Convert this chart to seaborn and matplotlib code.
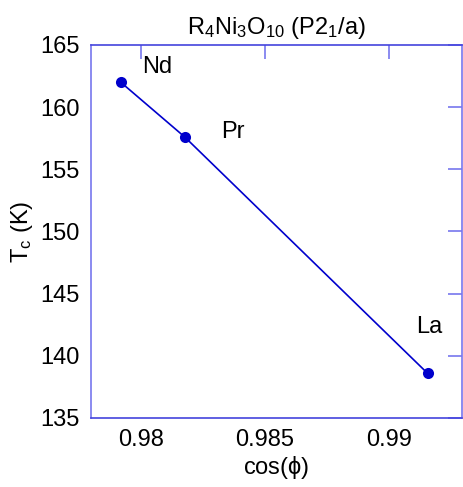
import matplotlib
matplotlib.use("Agg")
import matplotlib.pyplot as plt
import pandas as pd
import seaborn as sns

# data
compounds = ["Nd", "Pr", "La"]
cos_phi = [0.97920, 0.98177, 0.99153]
tc_values = [162.0, 157.6, 138.6]
x_ticks = [0.98, 0.985, 0.99]
y_ticks = [135, 140, 145, 150, 155, 160, 165]

sns.set_theme(style="white")
plt.rcParams["font.family"] = ["Liberation Sans", "DejaVu Sans"]
plt.rcParams["mathtext.fontset"] = "custom"
plt.rcParams["mathtext.rm"] = "Liberation Sans"
plt.rcParams["mathtext.it"] = "Liberation Sans"
plt.rcParams["text.color"] = "black"
plt.rcParams["axes.labelcolor"] = "black"
plt.rcParams["xtick.labelcolor"] = "black"
plt.rcParams["ytick.labelcolor"] = "black"

df = pd.DataFrame({"compound": compounds, "cos_phi": cos_phi, "Tc": tc_values})

fig = plt.figure(figsize=(4.63, 4.87), dpi=100)
ax = fig.add_axes([0.1965, 0.1417, 0.8015, 0.7659])

sns.lineplot(
    data=df,
    x="cos_phi",
    y="Tc",
    color="#0000cc",
    linewidth=1.2,
    marker="o",
    markersize=8,
    markeredgewidth=0,
    sort=False,
    ax=ax,
)

label_offsets = {"Nd": (0.00148, 0.75), "Pr": (0.00192, -0.08), "La": (0.00008, 3.23)}
for name, x, y in zip(compounds, cos_phi, tc_values):
    dx, dy = label_offsets[name]
    ax.text(x + dx, y + dy, name, fontsize=17, ha="center", va="baseline")

ax.set_xlim(0.978, 0.99292)
ax.set_ylim(135, 165)
ax.set_xticks(x_ticks)
ax.set_xticklabels(["0.98", "0.985", "0.99"])
ax.set_yticks(y_ticks)
ax.tick_params(
    direction="in", length=10, width=1.2, color="#7777ee",
    top=True, right=True, labelsize=17, pad=8,
)
for side in ["left", "right"]:
    ax.spines[side].set_color("#7777ee")
for side in ["top", "bottom"]:
    ax.spines[side].set_color("#4444dd")
for sp in ax.spines.values():
    sp.set_linewidth(1.2)

ax.set_xlabel(r"cos($\phi$)", fontsize=17, labelpad=2)
ax.set_ylabel(r"T$_\mathrm{c}$ (K)", fontsize=17, labelpad=4)
ax.set_title(r"R$_4$Ni$_3$O$_{10}$ (P2$_1$/a)", fontsize=17, pad=8)

fig.savefig("out.png", dpi=100)
